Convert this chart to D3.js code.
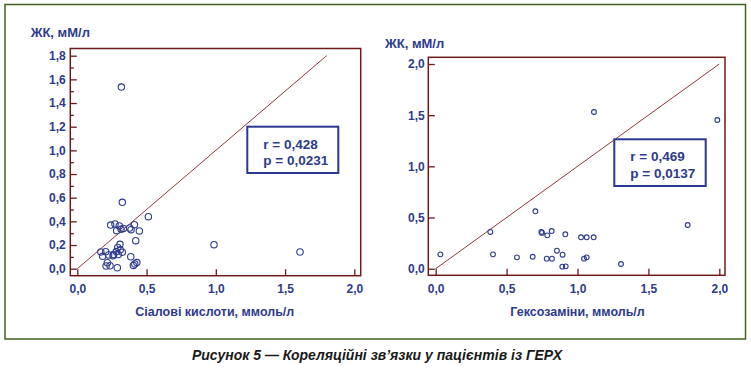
<!DOCTYPE html>
<html>
<head>
<meta charset="utf-8">
<script src="https://cdn.jsdelivr.net/npm/d3@7/dist/d3.min.js"></script>
<style>
  body { margin: 0; background: #fff; }
  svg { display: block; }
  text { font-family: "Liberation Sans", Arial, sans-serif; font-weight: bold; fill: #2e3a8c; }
</style>
</head>
<body>
<script>
// Сіалові кислоти (ммоль/л) vs ЖК (мМ/л)
var sialX = [0.318, 0.325, 0.513, 0.987, 1.608, 0.241, 0.272, 0.303, 0.284, 0.316, 0.333, 0.378,
             0.388, 0.412, 0.448, 0.422, 0.308, 0.292, 0.310, 0.282, 0.325, 0.262, 0.170, 0.205,
             0.183, 0.226, 0.258, 0.296, 0.386, 0.217, 0.208, 0.236, 0.289, 0.405, 0.415, 0.430];
var sialY = [1.535, 0.561, 0.440, 0.203, 0.141, 0.369, 0.378, 0.361, 0.321, 0.333, 0.340, 0.344,
             0.330, 0.372, 0.319, 0.237, 0.206, 0.180, 0.160, 0.145, 0.140, 0.120, 0.141, 0.144,
             0.105, 0.116, 0.110, 0.120, 0.101, 0.051, 0.023, 0.025, 0.008, 0.028, 0.040, 0.052];
// Гексозаміни (ммоль/л) vs ЖК (мМ/л)
var hexX = [0.033, 0.385, 0.404, 0.573, 0.684, 0.703, 0.745, 0.750, 0.787, 0.818, 0.783, 0.820, 0.855,
            0.895, 0.914, 0.893, 0.917, 1.025, 1.065, 1.114, 1.046, 1.065, 1.116, 1.307, 1.777, 1.986];
var hexY = [0.140, 0.359, 0.140, 0.111, 0.117, 0.561, 0.359, 0.350, 0.326, 0.368, 0.098, 0.098, 0.176,
            0.137, 0.336, 0.020, 0.023, 0.307, 0.307, 0.307, 0.098, 0.111, 1.531, 0.046, 0.427, 1.453];

var xTicks = [0, 0.5, 1.0, 1.5, 2.0];
var yTicksLeft = [0, 0.2, 0.4, 0.6, 0.8, 1.0, 1.2, 1.4, 1.6, 1.8];
var yMinorLeft = [0.1, 0.3, 0.5, 0.7, 0.9, 1.1, 1.3, 1.5, 1.7];
var yTicksRight = [0, 0.5, 1.0, 1.5, 2.0];
var fitLeft = [[0, 0], [1.8, 1.8]];
var fitRight = [[0, 0], [2.0, 2.0]];
var statsLeft = ["r = 0,428", "p = 0,0231"];
var statsRight = ["r = 0,469", "p = 0,0137"];

var W = 751, H = 371;
var navy = "#2e3a8c", frameCol = "#6e1a1a", lineCol = "#8e3a3a";
var fmt = function(d) { return d3.format(".1f")(d).replace(".", ","); };

var svg = d3.select("body").append("svg").attr("width", W).attr("height", H);

svg.append("rect")
  .attr("x", 5).attr("y", 4.5).attr("width", 740.5).attr("height", 334.5)
  .attr("fill", "none").attr("stroke", "#42601f").attr("stroke-width", 1.5);

function panel(cfg) {
  var x = d3.scaleLinear().domain([0, 2]).range(cfg.xr);
  var y = d3.scaleLinear().domain(cfg.yd).range(cfg.yr);
  var g = svg.append("g");
  var f = cfg.frame;

  // inward major ticks
  var ax = g.append("g").attr("transform", "translate(0," + f[3] + ")")
    .call(d3.axisBottom(x).tickValues(xTicks).tickFormat(fmt).tickSize(-6.5).tickPadding(9));
  var ay = g.append("g").attr("transform", "translate(" + f[0] + ",0)")
    .call(d3.axisLeft(y).tickValues(cfg.yTicks).tickFormat(fmt).tickSize(-6.5).tickPadding(cfg.pad));
  if (cfg.minor) {
    g.append("g").attr("transform", "translate(" + f[0] + ",0)")
      .call(d3.axisLeft(y).tickValues(cfg.minor).tickFormat("").tickSize(-3.5));
  }
  g.selectAll(".domain").remove();
  g.selectAll(".tick line").attr("stroke", frameCol).attr("stroke-width", 1.3);
  g.selectAll(".tick text").attr("font-size", 12).attr("font-family", null).attr("fill", navy);

  g.append("rect")
    .attr("x", f[0]).attr("y", f[1]).attr("width", f[2] - f[0]).attr("height", f[3] - f[1])
    .attr("fill", "none").attr("stroke", frameCol).attr("stroke-width", 1.5);

  g.append("path")
    .attr("d", d3.line().x(function(d) { return x(d[0]); }).y(function(d) { return y(d[1]); })(cfg.fit))
    .attr("fill", "none").attr("stroke", lineCol).attr("stroke-width", 1);

  g.selectAll("circle.pt")
    .data(cfg.xs.map(function(v, i) { return [v, cfg.ys[i]]; }))
    .enter().append("circle")
    .attr("class", "pt")
    .attr("cx", function(d) { return x(d[0]); })
    .attr("cy", function(d) { return y(d[1]); })
    .attr("r", cfg.r)
    .attr("fill", "#fff").attr("fill-opacity", 0)
    .attr("stroke", navy).attr("stroke-width", 1.1);

  var b = cfg.box;
  g.append("rect")
    .attr("x", b[0]).attr("y", b[1]).attr("width", b[2] - b[0]).attr("height", b[3] - b[1])
    .attr("fill", "#fff").attr("stroke", "#2b3791").attr("stroke-width", 2);
  g.selectAll("text.stat")
    .data(cfg.stats)
    .enter().append("text")
    .attr("class", "stat")
    .attr("x", b[0] + 16)
    .attr("y", function(d, i) { return b[1] + 21.8 + i * 16.8; })
    .attr("font-size", 13.5)
    .text(function(d) { return d; });

  g.append("text")
    .attr("x", cfg.ylab[0]).attr("y", cfg.ylab[1])
    .attr("font-size", 13)
    .text("ЖК, мМ/л");
  g.append("text")
    .attr("x", (cfg.xr[0] + cfg.xr[1]) / 2 + cfg.xlabShift).attr("y", 316)
    .attr("text-anchor", "middle")
    .attr("font-size", 12.5)
    .text(cfg.xlab);
}

panel({
  xr: [77.3, 354.3], yd: [0, 1.8], yr: [268.7, 55.7],
  frame: [70.3, 48.5, 360.7, 275.7],
  yTicks: yTicksLeft, minor: yMinorLeft, pad: 4.5,
  xs: sialX, ys: sialY, r: 3.2,
  fit: fitLeft,
  box: [247.3, 126.7, 338.3, 173], stats: statsLeft,
  ylab: [30.7, 37], xlab: "Сіалові кислоти, ммоль/л", xlabShift: -1
});

panel({
  xr: [435.7, 719.3], yd: [0, 2], yr: [268.7, 64],
  frame: [428.3, 57.3, 725, 275.3],
  yTicks: yTicksRight, minor: null, pad: 3.5,
  xs: hexX, ys: hexY, r: 2.4,
  fit: fitRight,
  box: [614.3, 139.3, 705.7, 186], stats: statsRight,
  ylab: [385, 47.5], xlab: "Гексозаміни, ммоль/л", xlabShift: 0
});

svg.append("text")
  .attr("x", 377).attr("y", 360)
  .attr("text-anchor", "middle")
  .style("font-family", "'Liberation Sans Narrow', 'Liberation Sans', Arial, sans-serif")
  .style("font-style", "italic")
  .style("font-size", "14px")
  .style("fill", "#1a1a1a")
  .text("Рисунок 5 — Кореляційні зв’язки у пацієнтів із ГЕРХ");
</script>
</body>
</html>
